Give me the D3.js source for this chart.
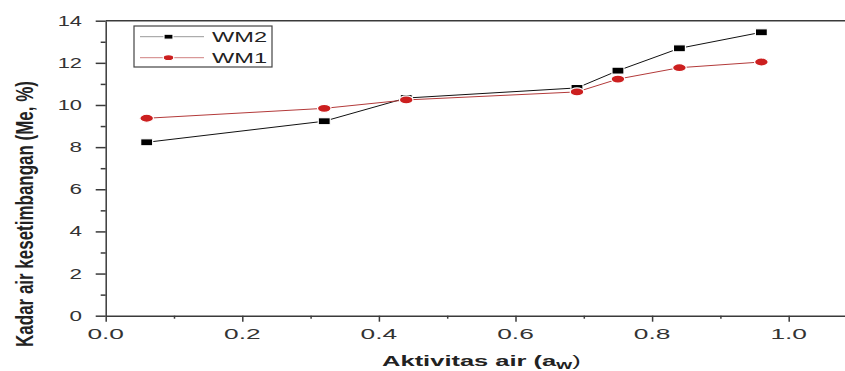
<!DOCTYPE html>
<html lang="en">
<head>
	<meta charset="UTF-8">
	<script src="https://d3js.org/d3.v7.min.js"></script>
	<title>Kadar air kesetimbangan</title>
	<style>
		body { margin: 0; background: #fff; }
		svg { display: block; font-family: "Liberation Sans", Arial, sans-serif; }
		.axis path, .axis line { stroke: #3a3a3a; }
	</style>
</head>
<body>
	<svg width="845" height="371"></svg>

	<script>
		// values
		const aw = [0.06, 0.32, 0.44, 0.69, 0.75, 0.84, 0.96];
		const wm2 = [8.23, 9.23, 10.33, 10.81, 11.63, 12.69, 13.45];
		const wm1 = [9.37, 9.84, 10.24, 10.62, 11.23, 11.77, 12.04];
		const xTicks = [0, 0.2, 0.4, 0.6, 0.8, 1.0];
		const yTicks = [0, 2, 4, 6, 8, 10, 12, 14];

		const svg = d3.select('svg');
		const x = d3.scaleLinear().domain([0, 1.1]).range([105.7, 857]);
		const y = d3.scaleLinear().domain([0, 14]).range([315.7, 20.7]);

		// top frame line
		svg.append('line')
			.attr('x1', x(0)).attr('x2', 845)
			.attr('y1', y(14)).attr('y2', y(14))
			.attr('stroke', '#3a3a3a').attr('stroke-width', 1.5);

		// minor ticks
		const xMinor = svg.append('g').attr('class', 'axis')
			.attr('transform', `translate(0,${y(0)})`)
			.call(d3.axisBottom(x).tickValues([0.1, 0.3, 0.5, 0.7, 0.9]).tickSize(3).tickFormat(''));
		xMinor.select('.domain').remove();
		xMinor.selectAll('line').attr('stroke-width', 1.5);

		const yMinor = svg.append('g').attr('class', 'axis')
			.attr('transform', `translate(${x(0)},0)`)
			.call(d3.axisLeft(y).tickValues([1, 3, 5, 7, 9, 11, 13]).tickSize(5).tickFormat(''));
		yMinor.select('.domain').remove();
		yMinor.selectAll('line').attr('stroke-width', 1.5);

		// major axes, labels drawn separately so they can be stretched
		const xAxis = svg.append('g').attr('class', 'axis')
			.attr('transform', `translate(0,${y(0)})`)
			.call(d3.axisBottom(x).tickValues(xTicks).tickSize(6).tickSizeOuter(0).tickFormat(''));
		xAxis.select('.domain').attr('stroke-width', 1.5);
		xAxis.selectAll('line').attr('stroke-width', 1.5);

		const yAxis = svg.append('g').attr('class', 'axis')
			.attr('transform', `translate(${x(0)},0)`)
			.call(d3.axisLeft(y).tickValues(yTicks).tickSize(10).tickSizeOuter(0).tickFormat(''));
		yAxis.select('.domain').attr('stroke-width', 1.5);
		yAxis.selectAll('line').attr('stroke-width', 1.5);

		svg.append('g').selectAll('text')
			.data(xTicks)
			.join('text')
			.attr('x', d => x(d) - 18.3)
			.attr('y', 339)
			.attr('textLength', 36.6)
			.attr('lengthAdjust', 'spacingAndGlyphs')
			.attr('font-size', 14)
			.attr('fill', '#333')
			.text(d3.format('.1f'));

		svg.append('g').selectAll('text')
			.data(yTicks)
			.join('text')
			.attr('x', d => d >= 10 ? 82 - 24.3 : 82 - 12.5)
			.attr('y', d => y(d))
			.attr('dy', '0.36em')
			.attr('textLength', d => d >= 10 ? 24.3 : 12.5)
			.attr('lengthAdjust', 'spacingAndGlyphs')
			.attr('font-size', 14)
			.attr('fill', '#333')
			.text(d3.format('d'));

		// axis titles
		const xTitle = svg.append('text')
			.attr('transform', `translate(${(x(0) + x(1.1)) / 2},366) scale(1.7,1)`)
			.attr('text-anchor', 'middle')
			.attr('font-weight', 'bold')
			.attr('font-size', 15)
			.attr('fill', '#222');
		xTitle.append('tspan').text('Aktivitas air (a');
		xTitle.append('tspan').attr('dy', 3).attr('font-size', 12).text('w');
		xTitle.append('tspan').attr('dy', -3).attr('font-weight', 'normal').text(')');

		// y title: condensed along its length, tall across it
		const yTitle = svg.append('text')
			.attr('text-anchor', 'middle')
			.attr('font-size', 16)
			.attr('font-weight', 'bold')
			.attr('fill', '#222')
			.text('Kadar air kesetimbangan (Me, %)');
		const natural = yTitle.node().getComputedTextLength();
		yTitle.attr('transform', `translate(33,214) rotate(-90) scale(${266 / natural},1.45)`);

		// series
		const series = [
			{ name: 'WM2', values: wm2, line: '#111', fill: '#000', shape: 'square' },
			{ name: 'WM1', values: wm1, line: '#b33a3a', fill: '#cc1f1f', shape: 'circle' }
		];

		const line = d3.line().x((d, i) => x(aw[i])).y(d => y(d));

		series.forEach(s => {
			svg.append('path')
				.datum(s.values)
				.attr('d', line)
				.attr('fill', 'none')
				.attr('stroke', s.line)
				.attr('stroke-width', 1);
		});

		function marker(g, s, cx, cy, big) {
			const w = big ? 12 : 9, h = big ? 7 : 5;
			if (s.shape === 'square') {
				g.append('rect')
					.attr('x', cx - w / 2).attr('y', cy - h / 2)
					.attr('width', w).attr('height', h)
					.attr('fill', s.fill)
					.attr('stroke', '#fff').attr('stroke-width', 1.2);
			} else {
				g.append('ellipse')
					.attr('cx', cx).attr('cy', cy)
					.attr('rx', w / 2 + 0.8).attr('ry', h / 2 + 0.5)
					.attr('fill', s.fill)
					.attr('stroke', '#fff').attr('stroke-width', 1.2);
			}
		}

		series.forEach(s => {
			const g = svg.append('g');
			s.values.forEach((v, i) => marker(g, s, x(aw[i]), y(v), true));
		});

		// legend
		const legend = svg.append('g');
		legend.append('rect')
			.attr('x', 134).attr('y', 26).attr('width', 138).attr('height', 41)
			.attr('fill', '#fff').attr('stroke', '#444').attr('stroke-width', 1.2);

		series.forEach((s, i) => {
			const ly = 36.7 + i * 21;
			legend.append('line')
				.attr('x1', 140).attr('x2', 204).attr('y1', ly).attr('y2', ly)
				.attr('stroke', s.shape === 'square' ? '#999' : '#d08080').attr('stroke-width', 1);
			marker(legend, s, 168.5, ly, false);
			legend.append('text')
				.attr('x', 212).attr('y', ly)
				.attr('dy', '0.36em')
				.attr('textLength', 55)
				.attr('lengthAdjust', 'spacingAndGlyphs')
				.attr('font-size', 14)
				.attr('fill', '#222')
				.text(s.name);
		});
	</script>
</body>
</html>
